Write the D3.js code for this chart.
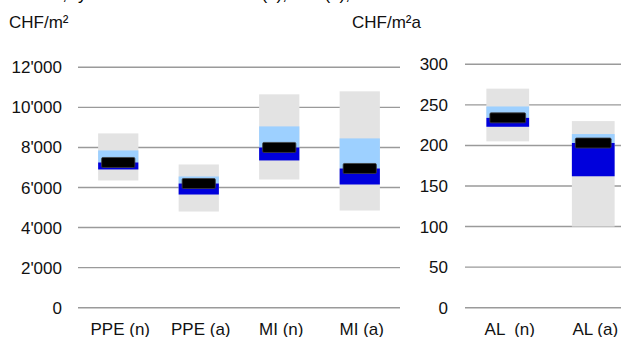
<!DOCTYPE html>
<html><head><meta charset="utf-8">
<script src="https://cdn.jsdelivr.net/npm/d3@7"></script>
<style>html,body{margin:0;padding:0;background:#fff;overflow:hidden}svg{display:block;font-family:"Liberation Sans",Arial,sans-serif}</style>
</head><body>
<svg id="c" width="621" height="337"></svg>
<script>
// Left panel: prices CHF/m²
const catsL = ["PPE (n)", "PPE (a)", "MI (n)", "MI (a)"];
const minL  = [6350, 4800, 6400, 4850];
const q1L   = [6900, 5650, 7350, 6150];
const medL  = [7250, 6200, 8000, 6950];
const q3L   = [7850, 6550, 9050, 8450];
const maxL  = [8700, 7150, 10650, 10800];
const ticksL = [0, 2000, 4000, 6000, 8000, 10000, 12000];
const unitL = "CHF/m²";

// Right panel: rents CHF/m²a
const catsR = ["AL  (n)", "AL (a)"];
const minR  = [205, 100];
const q1R   = [223, 162];
const medR  = [234, 203];
const q3R   = [248, 214];
const maxR  = [270, 230];
const ticksR = [0, 50, 100, 150, 200, 250, 300];
const unitR = "CHF/m²a";

const svg = d3.select("#c");
const fmt = v => v >= 1000 ? d3.format(",")(v).replace(/,/g, "'") : String(v);

// clipped title (only descenders visible at the top edge)
const title = svg.append("g").attr("font-size", 17).attr("fill", "#000");
[["Median,", 67, "end"], ["y-Achse", 78, "start"], ["neu (n),", 287, "end"], ["alt (a),", 350, "end"]]
  .forEach(([t, x, a]) => title.append("text").attr("x", x).attr("y", 0).attr("text-anchor", a).text(t));

function panel(cats, mins, q1s, meds, q3s, maxs, ticks, unit, opt) {
  const g = svg.append("g");
  const x = d3.scaleBand().domain(cats).range(opt.xr).paddingInner(0.5).paddingOuter(0.25);
  const y = d3.scaleLinear().domain([0, ticks[ticks.length - 1]]).range(opt.yr);
  g.selectAll("line.grid").data(ticks).join("line")
    .attr("x1", opt.gx[0]).attr("x2", opt.gx[1])
    .attr("y1", d => y(d)).attr("y2", d => y(d))
    .attr("stroke", "#9a9a9a").attr("stroke-width", 1.4);
  g.selectAll("text.tick").data(ticks).join("text")
    .attr("x", opt.lx).attr("y", d => y(d) + 6).attr("text-anchor", "end")
    .attr("font-size", 17).attr("fill", "#111").text(fmt);
  g.append("text").attr("x", opt.ux).attr("y", 28).attr("font-size", 17).attr("fill", "#111").text(unit);
  const idx = d3.range(cats.length);
  const bw = x.bandwidth();
  const rect = (lo, hi, col) => g.selectAll(null).data(idx).join("rect")
    .attr("x", i => x(cats[i])).attr("width", bw)
    .attr("y", i => y(hi[i])).attr("height", i => y(lo[i]) - y(hi[i]))
    .attr("fill", col);
  rect(mins, maxs, "#e3e3e3");
  rect(meds, q3s, "#9dd0ff");
  rect(q1s, meds, "#0000dc");
  g.selectAll(null).data(idx).join("rect")
    .attr("x", i => x(cats[i]) + 3.5).attr("width", bw - 7)
    .attr("y", i => y(meds[i]) - 5).attr("height", 10)
    .attr("rx", 1.2).attr("fill", "#000").attr("stroke", "#404040").attr("stroke-width", 0.8);
  g.selectAll(null).data(idx).join("text")
    .attr("x", i => x(cats[i]) + bw / 2 + 2).attr("y", 335).attr("text-anchor", "middle")
    .attr("font-size", 17).attr("fill", "#111").attr("xml:space", "preserve")
    .style("white-space", "pre").text(i => cats[i]);
}

panel(catsL, minL, q1L, medL, q3L, maxL, ticksL, unitL,
  {xr: [78, 400], yr: [307.7, 67.3], gx: [78, 400], lx: 62, ux: 9});
panel(catsR, minR, q1R, medR, q3R, maxR, ticksR, unitR,
  {xr: [465, 636], yr: [307.7, 64.3], gx: [465, 621], lx: 448, ux: 352});
</script>
</body></html>
